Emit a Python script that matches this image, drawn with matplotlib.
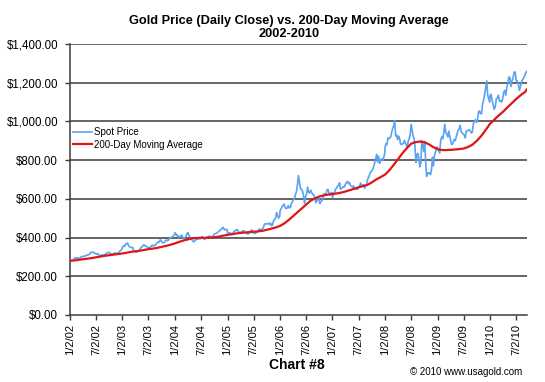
import matplotlib
matplotlib.use("Agg")
import matplotlib.pyplot as plt
import numpy as np
import pandas as pd

plt.rcParams['font.family'] = ['Liberation Sans', 'DejaVu Sans']

# ---- data (weekly-ish spot readings, per year) ----
spot_2002 = [279, 283, 282, 283, 290, 297, 294, 296, 292, 294, 293, 301, 303,
             302, 303, 306, 308, 310, 311, 313, 321, 325, 324, 323, 320, 318,
             314, 318, 313, 305, 306, 311, 310, 310, 312, 316, 319, 322, 324,
             320, 316, 312, 316, 318, 321, 319, 318, 319, 325, 332, 335, 343]
spot_2003 = [352, 356, 354, 367, 368, 372, 358, 352, 351, 348, 349, 332, 330,
             326, 325, 330, 331, 340, 348, 352, 358, 363, 356, 356, 352, 346,
             349, 350, 354, 361, 356, 360, 360, 368, 373, 378, 377, 389, 383,
             373, 374, 374, 384, 388, 383, 388, 396, 398, 402, 405, 410, 415]
spot_2004 = [425, 420, 409, 410, 400, 405, 410, 412, 396, 394, 400, 405, 421,
             426, 410, 403, 395, 388, 380, 378, 385, 392, 390, 392, 394, 394,
             396, 405, 399, 391, 392, 398, 401, 406, 407, 407, 399, 403, 410,
             418, 420, 421, 425, 429, 434, 438, 442, 450, 453, 441, 440, 443, 438]
spot_2005 = [423, 422, 425, 423, 414, 419, 429, 435, 436, 442, 437, 428,
             424, 427, 430, 435, 435, 428, 424, 420, 418, 425, 428, 438, 439,
             426, 422, 422, 426, 429, 437, 444, 441, 440, 446, 452, 468, 472, 470,
             471, 474, 467, 475, 461, 467, 488, 494, 502, 530, 512, 500, 513]
spot_2006 = [537, 549, 559, 568, 573, 554, 550, 553, 565, 553, 555, 575, 583,
             596, 598, 620, 636, 671, 720, 685, 652, 650, 640, 615, 576, 613,
             628, 661, 633, 630, 645, 632, 623, 620, 604, 580, 590, 600, 599,
             575, 587, 590, 605, 627, 623, 628, 648, 648, 628, 620, 632, 632]
spot_2007 = [608, 626, 631, 650, 655, 666, 669, 683, 650, 653, 658, 663, 663,
             677, 686, 690, 678, 684, 668, 666, 660, 667, 650, 655, 650, 650,
             656, 665, 682, 666, 670, 673, 655, 667, 673, 700, 712, 725, 740,
             742, 752, 765, 785, 806, 830, 790, 819, 783, 800, 806, 800, 812, 834]
spot_2008 = [864, 885, 880, 915, 910, 915, 920, 945, 965, 975, 1005, 925, 930,
             906, 924, 913, 885, 880, 885, 885, 901, 889, 880, 866, 899, 912,
             930, 985, 955, 925, 913, 867, 788, 830, 835, 805, 765, 784, 900, 880,
             845, 895, 790, 716, 735, 730, 735, 725, 750, 815, 770, 820, 840, 860, 869]
spot_2009 = [858, 850, 837, 900, 920, 910, 940, 985, 943, 935, 920, 950, 920,
             895, 880, 887, 905, 900, 915, 935, 955, 960, 980, 950, 940, 935,
             930, 915, 950, 950, 955, 957, 950, 940, 945, 990, 1000, 1010, 995,
             1005, 1050, 1055, 1040, 1040, 1090, 1110, 1140, 1175, 1210, 1135, 1115, 1100]
spot_2010 = [1135, 1140, 1110, 1085, 1063, 1075, 1118, 1120, 1135, 1105, 1107,
             1100, 1115, 1150, 1160, 1135, 1175, 1200, 1230, 1225, 1180, 1210,
             1225, 1255, 1255, 1210, 1210, 1193, 1160, 1180, 1205, 1215, 1225,
             1235, 1250, 1258]
spot_years = {2002: spot_2002, 2003: spot_2003, 2004: spot_2004, 2005: spot_2005,
              2006: spot_2006, 2007: spot_2007, 2008: spot_2008, 2009: spot_2009,
              2010: spot_2010}
spot_end = '2010-09-14'

# 200-day moving average, monthly readings (Jan 2002 .. Sep 2010)
ma_values = [280, 282, 285, 288, 291, 294, 298, 302, 306, 309, 312, 315,
             318, 322, 326, 329, 332, 336, 340, 343, 347, 352, 357, 363,
             370, 378, 385, 391, 396, 398, 399, 399, 400, 402, 405, 410,
             414, 418, 421, 424, 426, 428, 430, 432, 435, 440, 446, 452,
             460, 474, 490, 510, 530, 550, 570, 590, 603, 612, 618, 622,
             625, 628, 632, 638, 645, 652, 660, 666, 672, 685, 700, 712,
             725, 748, 775, 805, 835, 862, 885, 893, 896, 893, 882, 868,
             857, 852, 852, 853, 855, 857, 860, 868, 880, 900, 925, 955,
             988, 1010, 1030, 1050, 1072, 1094, 1115, 1135, 1152]
ma_last = 1165

tick_labels = ['1/2/02', '7/2/02', '1/2/03', '7/2/03', '1/2/04', '7/2/04',
               '1/2/05', '7/2/05', '1/2/06', '7/2/06', '1/2/07', '7/2/07',
               '1/2/08', '7/2/08', '1/2/09', '7/2/09', '1/2/10', '7/2/10']
yticks = [0, 200, 400, 600, 800, 1000, 1200, 1400]

# ---- build series ----
sd, sv = [], []
for yr, vals in spot_years.items():
    end = spot_end if yr == 2010 else f'{yr}-12-31'
    start = f'{yr}-01-02'
    d = pd.date_range(start, end, periods=len(vals))
    sd.extend(d)
    sv.extend(vals)
ma_dates = list(pd.date_range('2002-01-01', periods=len(ma_values), freq='MS')
                + pd.Timedelta(days=1))
ma_dates.append(pd.Timestamp(spot_end))
ma_vals = ma_values + [ma_last]

# ---- figure ----
fig = plt.figure(figsize=(5.45, 3.82), dpi=100)
ax = fig.add_axes([70/545, 1-315/382, (527-70)/545, (315-44)/382])

for y in yticks[1:]:
    ax.axhline(y, color='#3a3a3a', lw=1.1, zorder=1)

ax.plot(sd, sv, color='#5aa2f2', lw=1.2, label='Spot Price', zorder=3)
ax.plot(ma_dates, ma_vals, color='#e01515', lw=1.6, label='200-Day Moving Average', zorder=4)

ax.set_ylim(0, 1400)
ax.set_yticks(yticks)
ax.set_yticklabels([f'${v:,.2f}' for v in yticks], fontsize=8.3)
tick_dates = [pd.Timestamp(f'20{l.split("/")[2]}-{l.split("/")[0]}-02') for l in tick_labels]
ax.set_xticks(tick_dates)
ax.set_xticklabels(tick_labels, rotation=90, fontsize=8)
ax.set_xlim(pd.Timestamp('2002-01-02'), pd.Timestamp('2010-09-16'))

for s in ['top', 'right']:
    ax.spines[s].set_visible(False)
for s in ['left', 'bottom']:
    ax.spines[s].set_color('#3a3a3a')
    ax.spines[s].set_linewidth(1.1)
ax.tick_params(axis='both', direction='out', length=3.5, width=1.0, color='#3a3a3a')
ax.tick_params(axis='y', pad=5)
ax.tick_params(axis='x', pad=3)

leg = ax.legend(loc='upper left', bbox_to_anchor=(0.006, 0.692), frameon=False,
                fontsize=7, handlelength=1.95, handletextpad=0.2,
                labelspacing=0.25, borderaxespad=0.0, borderpad=0.0)

fig.text(289/545, 1-21/382, 'Gold Price (Daily Close) vs. 200-Day Moving Average',
         ha='center', va='center', fontsize=9.2, fontweight='bold')
fig.text(289/545, 1-34/382, '2002-2010', ha='center', va='center',
         fontsize=9.2, fontweight='bold')
fig.text(297/545, 1-365/382, 'Chart #8', ha='center', va='center',
         fontsize=10, fontweight='bold')
fig.text(522/545, 1-372/382, '\u00a9 2010 www.usagold.com', ha='right', va='center',
         fontsize=7)

fig.savefig('out.png', dpi=100)
